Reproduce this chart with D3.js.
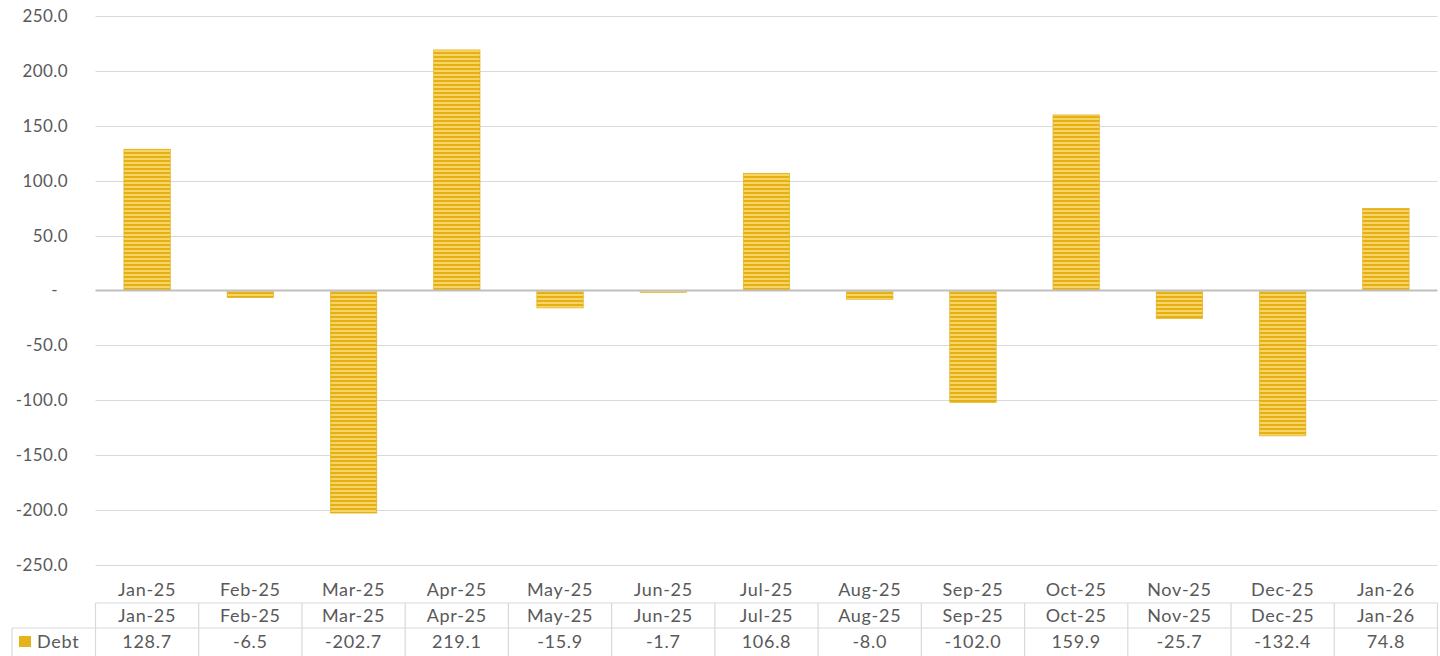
<!DOCTYPE html>
<html><head><meta charset="utf-8">
<script src="https://cdn.jsdelivr.net/npm/d3@7"></script>
<style>body{margin:0;background:#fff;}svg{display:block;font-family:Lato, "Open Sans", sans-serif;}</style>
</head><body><svg id="c" width="1440" height="656"></svg>
<script>
const categories = ["Jan-25","Feb-25","Mar-25","Apr-25","May-25","Jun-25","Jul-25","Aug-25","Sep-25","Oct-25","Nov-25","Dec-25","Jan-26"];
const debt = [128.7,-6.5,-202.7,219.1,-15.9,-1.7,106.8,-8.0,-102.0,159.9,-25.7,-132.4,74.8];
const yTicks = [250,200,150,100,50,0,-50,-100,-150,-200,-250];
const seriesName = "Debt";

const svg = d3.select("#c");
const left = 95.5, right = 1437.5;
const x = d3.scaleBand().domain(categories).range([left, right]).padding(0);
const y = d3.scaleLinear().domain([-250, 250]).range([565, 16]);
const txt = "#595959";
const f1 = d => d3.format(".1f")(d).replace("\u2212","-");

const defs = svg.append("defs");
const pat = defs.append("pattern").attr("id","stripe").attr("patternUnits","userSpaceOnUse").attr("width",8).attr("height",4);
pat.append("rect").attr("width",8).attr("height",4).attr("fill","#f6d466");
pat.append("rect").attr("width",8).attr("height",2).attr("fill","#e6b014");

// gridlines
svg.append("g").selectAll("line").data(yTicks.filter(d=>d!==0)).join("line")
  .attr("x1", left).attr("x2", right)
  .attr("y1", d=>Math.round(y(d))+0.5).attr("y2", d=>Math.round(y(d))+0.5)
  .attr("stroke","#d9d9d9").attr("stroke-width",1);

// y axis labels
const fmt = d => d===0 ? "-" : f1(d);
svg.append("g").selectAll("text").data(yTicks).join("text")
  .attr("x", d=> d===0 ? 58 : 68).attr("y", d=>y(d)).attr("dy","0.35em")
  .attr("text-anchor","end").attr("fill",txt).attr("font-size",17).attr("letter-spacing",0.4)
  .text(fmt);

// bars
const bw = x.bandwidth()*0.45;
svg.append("g").selectAll("rect").data(debt).join("rect")
  .attr("x",(d,i)=>x(categories[i])+x.bandwidth()/2-bw/2)
  .attr("width",bw)
  .attr("y",d=>y(Math.max(0,d)))
  .attr("height",d=>Math.abs(y(d)-y(0)))
  .attr("fill","url(#stripe)")
  .attr("stroke","#e3ad12").attr("stroke-width",0.6);

// zero line
svg.append("line").attr("x1",left).attr("x2",right).attr("y1",y(0)).attr("y2",y(0))
  .attr("stroke","#bfbfbf").attr("stroke-width",2);

const fs = 18, ls = 0.7;
// category axis labels
svg.append("g").selectAll("text").data(categories).join("text")
  .attr("x",d=>x(d)+x.bandwidth()/2).attr("y",590).attr("dy","0.35em")
  .attr("text-anchor","middle").attr("fill",txt).attr("font-size",fs).attr("letter-spacing",ls).text(d=>d);

// data table
const tTop = 603, tMid = 628, tBot = 656, tLeft = 12;
const tg = svg.append("g").attr("stroke","#d9d9d9").attr("stroke-width",1.2);
tg.append("line").attr("x1",left).attr("x2",right).attr("y1",tTop).attr("y2",tTop);
tg.append("line").attr("x1",tLeft).attr("x2",right).attr("y1",tMid).attr("y2",tMid);
tg.append("line").attr("x1",tLeft).attr("x2",tLeft).attr("y1",tMid).attr("y2",tBot);
const bounds = categories.map(c=>x(c)).concat([right]);
tg.selectAll(".v").data(bounds).join("line").attr("class","v")
  .attr("x1",d=>d).attr("x2",d=>d).attr("y1",tTop).attr("y2",tBot);

svg.append("g").selectAll("text").data(categories).join("text")
  .attr("x",d=>x(d)+x.bandwidth()/2).attr("y",615.5).attr("dy","0.35em")
  .attr("text-anchor","middle").attr("fill",txt).attr("font-size",fs).attr("letter-spacing",ls).text(d=>d);
svg.append("g").selectAll("text").data(debt).join("text")
  .attr("x",(d,i)=>x(categories[i])+x.bandwidth()/2).attr("y",642).attr("dy","0.35em")
  .attr("text-anchor","middle").attr("fill",txt).attr("font-size",fs).attr("letter-spacing",ls).text(d=>f1(d));

svg.append("rect").attr("x",19).attr("y",636).attr("width",12).attr("height",11).attr("fill","#e6b31c");
svg.append("text").attr("x",37).attr("y",642).attr("dy","0.35em").attr("fill",txt).attr("font-size",fs).attr("letter-spacing",ls).text(seriesName);
</script></body></html>
